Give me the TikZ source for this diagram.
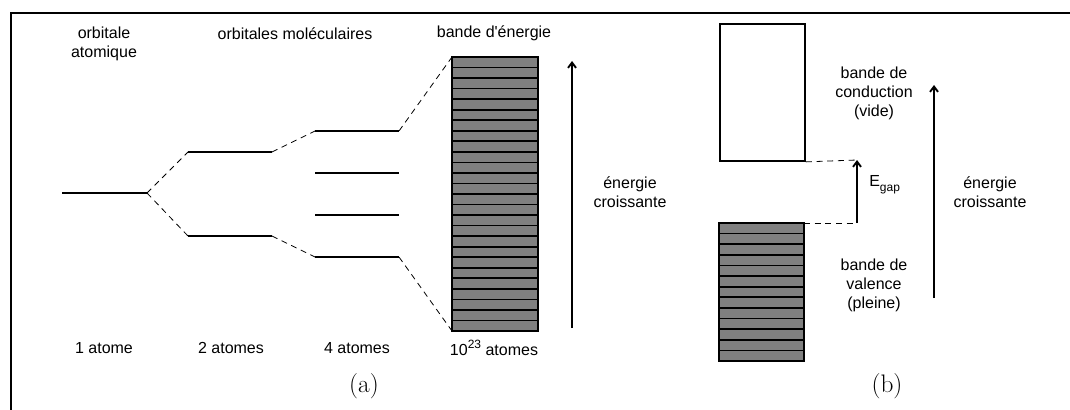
\documentclass[tikz,border=0pt]{standalone}
\usepackage{fontspec}
\newfontfamily\arialf{Liberation Sans}
\usetikzlibrary{arrows.meta}
\newcommand\bigsup[1]{\raisebox{0.42em}{\fontsize{9}{9}\selectfont #1}}
\newcommand\bigsub[1]{\raisebox{-0.32em}{\fontsize{9}{9}\selectfont #1}}
\begin{document}
\begin{tikzpicture}[x=0.75pt,y=-0.75pt,
  frameline/.style={line width=1.5pt},
  level/.style={line width=1.5pt},
  conn/.style={line width=0.6pt,dash pattern=on 4.5pt off 3.5pt},
  stripe/.style={draw=black,fill=black!50,line width=1.3pt},
  earrow/.style={line width=1.4pt,-{Straight Barb[length=4pt,width=6pt]}},
  lbl/.style={font=\arialf\fontsize{12}{14.25}\selectfont,align=center,inner sep=0pt},
  subcap/.style={font=\fontsize{19}{23}\selectfont,inner sep=0pt}]
\useasboundingbox (0,0) rectangle (1070,410);
\fill[white] (0,0) rectangle (1070,410);
\draw[frameline] (11,410) -- (11,13) -- (1070,13);

% ---------- panel (a)
\node[lbl] (ta1) at (104,43.5) {orbitale\\atomique};
\node[lbl] (ta2) at (295,34) {orbitales moléculaires};
\node[lbl] (ta3) at (494,33) {bande d'énergie};

\coordinate (l0a) at (62,193);  \coordinate (l0b) at (147,193);
\coordinate (l1a) at (188,152); \coordinate (l1b) at (272,152);
\coordinate (l2a) at (188,236); \coordinate (l2b) at (272,236);
\coordinate (m1a) at (315,131); \coordinate (m1b) at (399,131);
\coordinate (m2a) at (315,173); \coordinate (m2b) at (399,173);
\coordinate (m3a) at (315,215); \coordinate (m3b) at (399,215);
\coordinate (m4a) at (315,257); \coordinate (m4b) at (399,257);
\coordinate (bandtl) at (452,57); \coordinate (bandbl) at (452,331);

\foreach \s/\e in {l0a/l0b,l1a/l1b,l2a/l2b,m1a/m1b,m2a/m2b,m3a/m3b,m4a/m4b}
  \draw[level] (\s) -- (\e);

\foreach \i in {0,...,25}
  \draw[stripe] (452,{57+\i*10.538}) rectangle (538,{57+(\i+1)*10.538});
\draw[line width=1.4pt] (bandtl) rectangle (538,331);

\draw[conn] (l0b) -- (l1a);
\draw[conn] (l0b) -- (l2a);
\draw[conn] (l1b) -- (m1a);
\draw[conn] (l2b) -- (m4a);
\draw[conn] (m1b) -- (bandtl);
\draw[conn] (m4b) -- (bandbl);

\coordinate (ea0) at (572,328); \coordinate (ea1) at (572,61);
\draw[earrow] (ea0) -- (ea1);
\node[lbl] (tea) at (630,192.5) {énergie\\croissante};

\node[lbl] (b1) at (104,348) {1 atome};
\node[lbl] (b2) at (231,348) {2 atomes};
\node[lbl] (b3) at (357,348) {4 atomes};
\node[lbl] (b4) at (494,348) {10\bigsup{23} atomes};
\node[subcap] (capa) at (364,386) {(a)};

% ---------- panel (b)
\node[draw,line width=1.4pt,fill=white,anchor=north west,inner sep=0pt,
      minimum width=63.75pt,minimum height=102.75pt] (cb) at (719,23) {};
\foreach \i in {0,...,12}
  \draw[stripe] (719,{223+\i*10.615}) rectangle (804,{223+(\i+1)*10.615});
\draw[line width=1.4pt] (719,223) rectangle (804,361);
\coordinate (vbtr) at (804,223);
\coordinate (gapT) at (857,160);
\coordinate (gapB) at (857,223);
\draw[conn] (cb.south east) -- (gapT);
\draw[conn] (vbtr) -- (gapB);
\draw[earrow] (gapB) -- (gapT);
\node[lbl,anchor=west] (eg) at (869,185) {E\bigsub{gap}};

\node[lbl] (tcb) at (874,93) {bande de\\conduction\\(vide)};
\node[lbl] (tvb) at (874,285) {bande de\\valence\\(pleine)};

\coordinate (eb0) at (934,298); \coordinate (eb1) at (934,85);
\draw[earrow] (eb0) -- (eb1);
\node[lbl] (teb) at (990,192.5) {énergie\\croissante};
\node[subcap] (capb) at (887,386) {(b)};
\end{tikzpicture}
\end{document}
